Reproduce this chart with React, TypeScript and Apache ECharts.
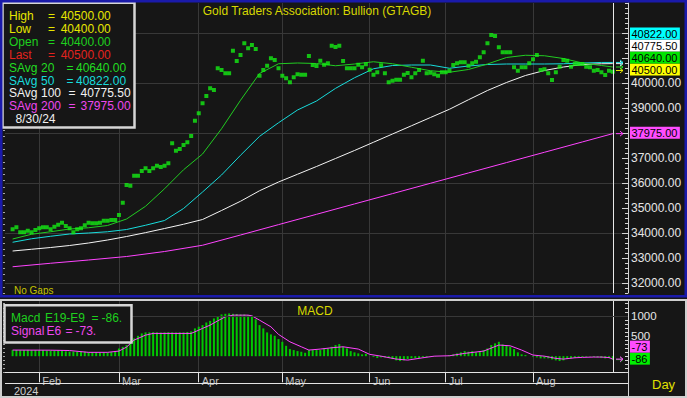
import React, { useEffect, useRef } from "react";
import * as echarts from "echarts";

const FONT = '"Liberation Sans", Arial, Helvetica, sans-serif';
const BG = "#161616";
const GRIDC = "#383838";

// ---------- categories (every weekday, no gaps) ----------
const startDate = "2024-01-23";
const endDate = "2024-08-30";
const monthNames = ["Jan", "Feb", "Mar", "Apr", "May", "Jun", "Jul", "Aug", "Sep", "Oct", "Nov", "Dec"];
function weekdayDates(s: string, e: string): string[] {
  const out: string[] = [];
  const d = new Date(s + "T00:00:00Z");
  const end = new Date(e + "T00:00:00Z");
  while (d <= end) {
    const w = d.getUTCDay();
    if (w !== 0 && w !== 6) out.push(d.toISOString().slice(0, 10));
    d.setUTCDate(d.getUTCDate() + 1);
  }
  return out;
}
const dates = weekdayDates(startDate, endDate);
const LEAD = 2;
const TRAIL = 4;
const categories = [
  ...Array.from({ length: LEAD }, (_, i) => `lead${i}`),
  ...dates,
  ...Array.from({ length: TRAIL }, (_, i) => `trail${i}`),
];
const monthStarts = new Set<number>();
dates.forEach((d, i) => {
  if (i > 0 && d.slice(5, 7) !== dates[i - 1].slice(5, 7)) monthStarts.add(i + LEAD);
});
const isMonthStart = (idx: number) => monthStarts.has(idx);

// ---------- price markers (one per bar) ----------
const prices = [
  34150, 34230, 34030, 34030, 34090, 34030, 34120, 34190, 34230, 34230,
  34150, 34250, 34330, 34410, 34280, 34190, 34030, 34150, 34190, 34310,
  34410, 34390, 34390, 34410, 34490, 34490, 34520, 34520, 34720, 35210,
  35920, 35890, 36290, 36290, 36480, 36590, 36480, 36590, 36690, 36640,
  36690, 36790, 37590, 37290, 37360, 37520, 37630, 37880, 38490, 38790,
  39190, 39480, 39790, 39720, 40590, 40520, 40390, 40390, 41290, 40880,
  41120, 41590, 41390, 41520, 41360, 40290, 40520, 40690, 40990, 40920,
  40590, 40290, 40190, 40030, 40230, 40350,
  40330, 40330, 41080, 40720, 40680, 40890, 40730, 40790, 41490, 41440,
  41490, 40880, 40590, 40590, 40590, 40730, 40630, 40750, 40530, 40330,
  40430, 40710, 40390, 40030, 40090, 40130, 40130, 40330, 40400,
  40230, 40390, 40520, 40890, 40390, 40410, 40350, 40290, 40430, 40430,
  40490, 40720, 40790, 40830, 40830, 40690, 40790, 40850, 41030, 41230,
  41590, 41920, 41880, 41430, 41230, 41230, 41230, 40630, 40490, 40630,
  40630, 40790, 40950, 41120, 40520, 40550, 40390, 40120, 40430, 40650,
  40920, 40890, 40650, 40760, 40760, 40760, 40650, 40630, 40490, 40520,
  40430, 40320, 40490, 40450,
];

// ---------- simple averages, read at sampled bars ----------
const maIdx = [0, 5, 10, 15, 20, 25, 30, 35, 40, 45, 50, 55, 60, 65, 70, 75, 80, 85, 90, 95, 100, 105, 110, 115, 120, 125, 130, 135, 140, 145, 150, 155, 158];
const sma20 = [33760, 33950, 34050, 34160, 34210, 34300, 34560, 35070, 35770, 36530, 37160, 38170, 39310, 40380, 40770, 40800, 40780, 40690, 40760, 40850, 40770, 40630, 40490, 40430, 40540, 40760, 41020, 41110, 41090, 40980, 40800, 40700, 40640];
const sma50 = [33630, 33770, 33870, 33960, 34000, 34050, 34140, 34310, 34500, 34980, 35640, 36320, 37110, 37865, 38410, 38920, 39280, 39785, 40210, 40570, 40700, 40720, 40720, 40590, 40680, 40740, 40760, 40760, 40760, 40770, 40800, 40822, 40822];
const sma100 = [33280, 33350, 33420, 33500, 33600, 33720, 33860, 34015, 34180, 34350, 34540, 34900, 35270, 35690, 36040, 36350, 36660, 36980, 37300, 37630, 37960, 38290, 38620, 38950, 39330, 39700, 40020, 40300, 40500, 40640, 40740, 40770, 40775.5];
const sma200Idx = [0, 10, 20, 30, 40, 50, 60, 70, 80, 90, 100, 110, 120, 130, 140, 150, 158];
const sma200 = [32650, 32790, 32920, 33060, 33260, 33510, 33920, 34335, 34748, 35162, 35575, 35989, 36402, 36816, 37229, 37643, 37975];

// ---------- last bar quote ----------
const lastHigh = 40500;
const lastLow = 40400;
const lastOpen = 40400;
const lastClose = 40500;
const lastDateLabel = "8/30/24";

// ---------- MACD ----------
const macdHist = [
  150, 150, 145, 150, 155, 150, 150, 145, 150, 140,
  140, 135, 140, 140, 120, 115, 115, 110, 115, 110,
  100, 95, 95, 90, 95, 95, 100, 110,
  190, 230, 275, 356, 440, 505, 564, 590, 590, 595,
  590, 585, 590, 595, 590, 585, 590, 590, 600, 615,
  688, 730, 770, 835, 875, 935, 990, 1035, 1050, 1060,
  1050, 1045, 1035, 1035, 1020,
  1000, 918, 770, 688, 589, 540, 505, 423, 356, 257,
  176, 151, 126, 109, 84, 151, 151, 151, 151, 193,
  193, 233, 275, 300, 233, 193, 126, 94, 69, 45,
  59, 0, -22, -47, -30, -30, -47, -72, -104, -121,
  -104, -72, -55, -47, -47, -30, -22, -10, -10, 0,
  0, 0, 27, 45, 69, 94, 126, 110, 126, 94,
  126, 151, 193, 275, 317, 356, 292, 275, 233, 176,
  94, 45, 27, 0, -15, -30, -55, -55, -55, -80,
  -104, -121, -104, -72, -55, -47, -30, -22, -15, -10,
  -22, -30, -47, -55, -47, -86,
];
const signalIdx = [0, 10, 15, 18, 20, 25, 28, 30, 32, 35, 37, 47, 48, 50, 52, 54, 56, 58, 62, 63, 65, 68, 70, 73, 76, 78, 81, 84, 87, 91, 94, 97, 101, 104, 108, 111, 115, 119, 124, 128, 131, 134, 137, 140, 143, 145, 148, 150, 153, 155, 157, 158];
const signalVals = [151, 148, 140, 112, 95, 95, 126, 225, 400, 522, 564, 564, 604, 688, 770, 876, 975, 1017, 1017, 1000, 893, 728, 540, 356, 233, 151, 176, 208, 233, 176, 45, 0, -72, -97, -40, 0, 10, 69, 126, 275, 257, 151, 27, 0, -55, -72, -40, -30, -22, -22, -35, -73];
const macdGridLevels = [1000];

// tag values on the price scale (axis labels hidden under them)
const mainTagValues = [lastClose, sma20[sma20.length - 1], sma100[sma100.length - 1], sma50[sma50.length - 1], sma200[sma200.length - 1]];

// ---------- helpers ----------
const TAG_FONT = 11;
const charW = (t: string) => {
  let w = 0;
  for (const c of t) w += (c === "." ? 0.278 : c === "-" ? 0.333 : 0.556) * TAG_FONT;
  return w;
};
const txt = (text: string, x: number, y: number, fill: string, size = 12, align = "left", extra: any = {}) => ({
  type: "text",
  x,
  y,
  z: 110,
  silent: true,
  style: {
    text,
    fill,
    font: `${size}px ${FONT}`,
    textAlign: align,
    align,
    textVerticalAlign: "middle",
    verticalAlign: "middle",
    lineHeight: size,
    ...extra,
  },
});

export default function App() {
  const ref = useRef<HTMLDivElement>(null);
  useEffect(() => {
    if (!ref.current) return;
    const chart = echarts.init(ref.current, null, { renderer: "svg" });
    const last = dates.length - 1;
    const axisWhite = "#d4d4d4";

    const xBase = { type: "category", data: categories, boundaryGap: false };
    const option: any = {
      animation: false,
      backgroundColor: BG,
      textStyle: { fontFamily: FONT },
      grid: [
        { left: 5, right: 59, top: 3, height: 290 },
        { left: 5, right: 59, top: 33, height: 250 },
        { left: 5, right: 59, top: 299.7, height: 72.6 },
      ],
      xAxis: [
        {
          ...xBase,
          gridIndex: 0,
          axisLine: { show: false, onZero: false },
          axisTick: { show: false },
          axisLabel: { show: false },
          splitLine: { show: true, interval: isMonthStart, lineStyle: { color: GRIDC, width: 1 } },
        },
        { ...xBase, gridIndex: 1, show: false, axisLine: { onZero: false } },
        {
          ...xBase,
          gridIndex: 2,
          position: "bottom",
          axisLine: { show: true, onZero: false, lineStyle: { color: "#e4e4e4", width: 1 } },
          axisTick: { show: true, interval: isMonthStart, length: 10, lineStyle: { color: "#e4e4e4" } },
          axisLabel: {
            show: true,
            interval: isMonthStart,
            formatter: (v: string) => monthNames[parseInt(v.slice(5, 7), 10) - 1] || "",
            align: "left",
            padding: [0, 0, 0, 3],
            margin: 3,
            color: "#c4c4c4",
            fontSize: 11,
            lineHeight: 11,
            fontFamily: FONT,
          },
          splitLine: { show: true, interval: isMonthStart, lineStyle: { color: GRIDC, width: 1 } },
        },
      ],
      yAxis: [
        {
          type: "value",
          gridIndex: 0,
          position: "right",
          min: 31600,
          max: 43200,
          interval: 200,
          axisLine: { show: true, lineStyle: { color: axisWhite } },
          axisTick: { show: true, inside: true, length: 3, lineStyle: { color: axisWhite } },
          axisLabel: {
            show: true,
            margin: 3,
            color: "#e6e6e6",
            fontSize: 12,
            lineHeight: 11,
            fontFamily: FONT,
            formatter: (v: number) => {
              const r = Math.round(v);
              if (r % 1000 !== 0 || r < 32000 || r > 40000) return "";
              if (mainTagValues.some((t) => Math.abs(t - r) < 450)) return "";
              return r.toFixed(2);
            },
          },
          splitLine: { show: false },
        },
        {
          type: "value",
          gridIndex: 0,
          position: "left",
          min: 31600,
          max: 43200,
          interval: 250,
          axisLine: { show: false },
          axisTick: { show: true, length: 2, lineStyle: { color: "#a8a8a8" } },
          axisLabel: { show: false },
          splitLine: { show: false },
        },
        {
          type: "value",
          gridIndex: 1,
          position: "right",
          min: 32000,
          max: 42000,
          interval: 2000,
          axisLine: { show: false },
          axisTick: { show: true, inside: true, length: 6, lineStyle: { color: axisWhite } },
          minorTick: { show: true, splitNumber: 2, length: 6, lineStyle: { color: axisWhite } },
          axisLabel: { show: false },
          splitLine: { show: true, lineStyle: { color: GRIDC, width: 1 } },
        },
        {
          type: "value",
          gridIndex: 2,
          position: "right",
          min: -400,
          max: 1400,
          interval: 100,
          axisLine: { show: true, lineStyle: { color: axisWhite } },
          axisTick: { show: true, inside: true, length: 3, lineStyle: { color: axisWhite } },
          axisLabel: {
            show: true,
            margin: 3,
            color: "#e6e6e6",
            fontSize: 11.5,
            lineHeight: 10,
            fontFamily: FONT,
            padding: [0, 0, 3, 0],
            formatter: (v: number) => {
              const r = Math.round(v);
              return r === 500 || r === 1000 ? String(r) : "";
            },
          },
          splitLine: { show: false },
        },
        {
          type: "value",
          gridIndex: 2,
          position: "left",
          min: -400,
          max: 1400,
          interval: 100,
          axisLine: { show: false },
          axisTick: { show: true, length: 2, lineStyle: { color: "#a8a8a8" } },
          axisLabel: { show: false },
          splitLine: { show: false },
        },
      ],
      series: [
        {
          name: "SAvg 200",
          type: "line",
          xAxisIndex: 0,
          yAxisIndex: 0,
          data: sma200Idx.map((k, i) => [k + LEAD, sma200[i]]),
          showSymbol: false,
          lineStyle: { color: "#ff44ff", width: 1 },
          z: 2,
        },
        {
          name: "SAvg 100",
          type: "line",
          xAxisIndex: 0,
          yAxisIndex: 0,
          data: maIdx.map((k, i) => [k + LEAD, sma100[i]]),
          showSymbol: false,
          lineStyle: { color: "#f4f4f4", width: 1 },
          z: 2,
        },
        {
          name: "SAvg 50",
          type: "line",
          xAxisIndex: 0,
          yAxisIndex: 0,
          data: maIdx.map((k, i) => [k + LEAD, sma50[i]]),
          showSymbol: false,
          lineStyle: { color: "#18dcdc", width: 1 },
          z: 2,
        },
        {
          name: "SAvg 20",
          type: "line",
          xAxisIndex: 0,
          yAxisIndex: 0,
          data: maIdx.map((k, i) => [k + LEAD, sma20[i]]),
          showSymbol: false,
          lineStyle: { color: "#22cc22", width: 1 },
          z: 2,
        },
        {
          name: "Price",
          type: "scatter",
          xAxisIndex: 0,
          yAxisIndex: 0,
          symbol: "rect",
          symbolSize: 4,
          data: prices.map((v, k) => [k + LEAD, v]),
          itemStyle: { color: "#14ec14" },
          z: 4,
          markLine: {
            silent: true,
            symbol: ["none", "none"],
            label: { show: false },
            lineStyle: { color: "#e8e8e8", width: 1, type: "solid" },
            data: [{ xAxis: dates[last] }],
          },
        },
        {
          name: "Macd",
          type: "bar",
          xAxisIndex: 2,
          yAxisIndex: 3,
          barWidth: 2,
          data: macdHist.map((v, k) => [k + LEAD, v]),
          itemStyle: { color: "#00c800" },
          z: 3,
          markLine: {
            silent: true,
            symbol: ["none", "none"],
            label: { show: false },
            data: [
              { xAxis: dates[last], lineStyle: { color: "#e8e8e8", width: 1, type: "solid" } },
              ...macdGridLevels.map((l) => ({ yAxis: l, lineStyle: { color: GRIDC, width: 1, type: "solid" } })),
            ],
          },
        },
        {
          name: "Signal",
          type: "line",
          xAxisIndex: 2,
          yAxisIndex: 3,
          data: signalIdx.map((k, i) => [k + LEAD, signalVals[i]]),
          showSymbol: false,
          lineStyle: { color: "#ff44ff", width: 1 },
          z: 4,
        },
      ],
    };
    chart.setOption(option);

    // ----- value tags on the right axes -----
    const TAG_H = 12;
    const layoutTags = (tags: any[], axis: number) => {
      const items = tags.map((t) => ({ ...t, py: chart.convertToPixel({ yAxisIndex: axis } as any, t.value) as number }));
      items.sort((a, b) => b.py - a.py);
      let prev = Infinity;
      items.forEach((it) => {
        let c = it.py - 1;
        if (c > prev - TAG_H) c = prev - TAG_H;
        it.cy = c;
        prev = c;
      });
      return items;
    };
    const mainTags = layoutTags(
      [
        { value: lastClose, text: lastClose.toFixed(2), bg: "#ffff00", arrow: "#e8e800" },
        { value: sma20[sma20.length - 1], text: sma20[sma20.length - 1].toFixed(2), bg: "#00e400", arrow: "#22dd22" },
        { value: sma100[sma100.length - 1], text: sma100[sma100.length - 1].toFixed(2), bg: "#ffffff", arrow: "#f0f0f0" },
        { value: sma50[sma50.length - 1], text: sma50[sma50.length - 1].toFixed(2), bg: "#00ffff", arrow: "#22e0e0" },
        { value: sma200[sma200.length - 1], text: sma200[sma200.length - 1].toFixed(2), bg: "#ff4cff", arrow: "#ff44ff" },
      ],
      0
    );
    const macdTags = layoutTags(
      [
        { value: signalVals[signalVals.length - 1], text: String(signalVals[signalVals.length - 1]), bg: "#ff4cff", arrow: "#ff44ff" },
        { value: macdHist[macdHist.length - 1], text: String(macdHist[macdHist.length - 1]), bg: "#00f000", arrow: "#22cc22" },
      ],
      3
    );
    const tagGraphics: any[] = [];
    [...mainTags, ...macdTags].forEach((t) => {
      const w = charW(t.text) + 4;
      tagGraphics.push({
        type: "rect",
        z: 120,
        silent: true,
        shape: { x: 630, y: t.cy - 6, width: w, height: 12 },
        style: { fill: t.bg },
      });
      const tt: any = txt(t.text, 631.5, t.cy + 0.5, "#000000", TAG_FONT, "left", { lineHeight: 10 });
      tt.z = 121;
      tagGraphics.push(tt);
      tagGraphics.push({
        type: "polyline",
        z: 115,
        silent: true,
        shape: { points: [[616, t.py], [623, t.py]] },
        style: { stroke: t.arrow, lineWidth: 1, fill: "none" },
      });
      tagGraphics.push({
        type: "polyline",
        z: 115,
        silent: true,
        shape: { points: [[620, t.py - 2.5], [623, t.py], [620, t.py + 2.5]] },
        style: { stroke: t.arrow, lineWidth: 1, fill: "none" },
      });
    });

    // ----- legend boxes and decorations -----
    const rowY = (i: number) => 16 + 12.9 * i;
    const yellow = "#e6e600";
    const legendRows: any[] = [
      { parts: [["High", 9], ["=", 48], [lastHigh.toFixed(2), 60.7]], color: yellow },
      { parts: [["Low", 9], ["=", 48], [lastLow.toFixed(2), 60.7]], color: yellow },
      { parts: [["Open", 9], ["=", 48], [lastOpen.toFixed(2), 60.7]], color: "#1ed01e" },
      { parts: [["Last", 9], ["=", 48], [lastClose.toFixed(2), 60.7]], color: "#e3231e" },
      { parts: [["SAvg", 9], ["20", 41], ["=", 66.5], [sma20[sma20.length - 1].toFixed(2), 76]], color: "#22dd22" },
      { parts: [["SAvg", 9], ["50", 41], ["=", 66.5], [sma50[sma50.length - 1].toFixed(2), 76]], color: "#18dcdc" },
      { parts: [["SAvg", 9], ["100", 41], ["=", 68.5], [sma100[sma100.length - 1].toFixed(2), 80.5]], color: "#f2f2f2" },
      { parts: [["SAvg", 9], ["200", 41], ["=", 68.5], [sma200[sma200.length - 1].toFixed(2), 80.5]], color: "#ee48ee" },
    ];
    const legendGraphics: any[] = [];
    legendRows.forEach((r, i) => {
      r.parts.forEach((p: any) => legendGraphics.push(txt(p[0], p[1], rowY(i), r.color)));
    });
    legendGraphics.push(txt(lastDateLabel, 15.5, rowY(8), "#f0f0f0"));

    const hist = macdHist[macdHist.length - 1];
    const sig = signalVals[signalVals.length - 1];
    const staticGraphics: any[] = [
      txt("Gold Traders Association: Bullion (GTAGB)", 317, 11, "#d8d800", 12, "center"),
      txt("No Gaps", 14, 290.5, "#c4c400", 10),
      {
        type: "rect",
        z: 105,
        silent: true,
        shape: { x: 2.5, y: 2.8, width: 132, height: 124.7 },
        style: { fill: BG, stroke: "#d6d6d6", lineWidth: 2.5 },
      },
      ...legendGraphics,
      txt("MACD", 315, 311, "#d8d800", 12, "center"),
      {
        type: "rect",
        z: 105,
        silent: true,
        shape: { x: 4.5, y: 305.3, width: 127, height: 37.2 },
        style: { fill: BG, stroke: "#d6d6d6", lineWidth: 2.5 },
      },
      txt("Macd", 11, 318, "#1ed01e"),
      txt("E19-E9", 45, 318, "#1ed01e"),
      txt("=", 91.5, 318, "#1ed01e"),
      txt(`${hist}.`, 101.5, 318, "#1ed01e"),
      txt("Signal", 11, 330.5, "#ee48ee"),
      txt("E6", 46.5, 330.5, "#ee48ee"),
      txt("=", 65.5, 330.5, "#ee48ee"),
      txt(`${sig}.`, 75.5, 330.5, "#ee48ee"),
      {
        type: "line",
        z: 100,
        silent: true,
        shape: { x1: 5, y1: 383.5, x2: 628, y2: 383.5 },
        style: { stroke: "#e4e4e4", lineWidth: 1 },
      },
      {
        type: "line",
        z: 100,
        silent: true,
        shape: { x1: 628.5, y1: 372, x2: 628.5, y2: 397 },
        style: { stroke: "#d4d4d4", lineWidth: 1 },
      },
      txt("2024", 14, 390.5, "#d0d0d0", 11),
      txt("Day", 652, 384, "#e0e000", 13),
      {
        type: "rect",
        z: 130,
        silent: true,
        shape: { x: 1.25, y: 1.25, width: 684.5, height: 295 },
        style: { fill: "none", stroke: "#1a1aaa", lineWidth: 2.5 },
      },
      {
        type: "rect",
        z: 130,
        silent: true,
        shape: { x: 1, y: 300, width: 685, height: 97 },
        style: { fill: "none", stroke: "#cfcfcf", lineWidth: 2 },
      },
    ];

    chart.setOption({ graphic: [...staticGraphics, ...tagGraphics] });

    return () => chart.dispose();
  }, []);

  return (
    <div
      ref={ref}
      style={{ position: "fixed", left: 0, top: 0, width: 687, height: 398, background: BG }}
    />
  );
}
